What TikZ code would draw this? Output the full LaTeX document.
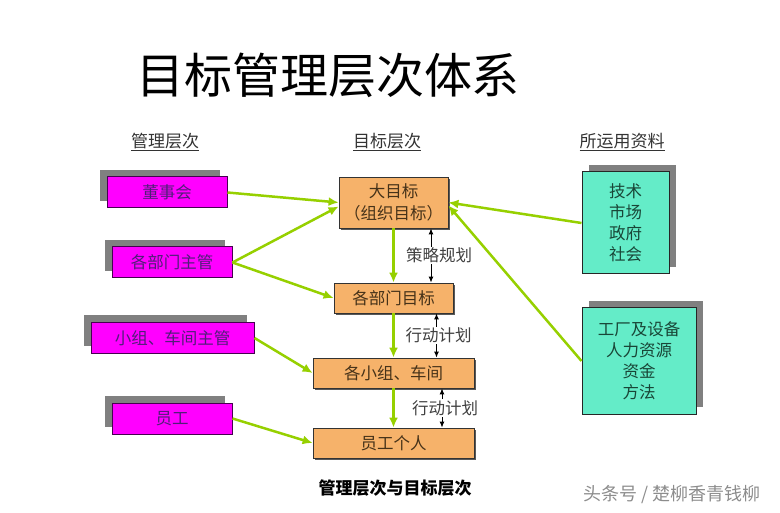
\documentclass[tikz,border=0pt]{standalone}
\usepackage{fontspec}
\setmainfont{Noto Sans CJK SC}
\usepackage{xcolor}
\usepackage{tikz}
\usetikzlibrary{arrows.meta, shadows, positioning}
\definecolor{boxmagenta}{RGB}{255,0,255}
\definecolor{magentaline}{RGB}{70,0,80}
\definecolor{magentatext}{RGB}{80,30,120}
\definecolor{boxorange}{RGB}{246,178,106}
\definecolor{orangetext}{RGB}{70,50,25}
\definecolor{boxteal}{RGB}{100,236,200}
\definecolor{tealtext}{RGB}{25,70,55}
\definecolor{shadowgray}{RGB}{128,128,128}
\definecolor{arrowgreen}{RGB}{150,208,0}
\tikzset{
    magentanode/.style = {draw=magentaline, line width=1pt, fill=boxmagenta, rectangle, inner sep=0em,
      minimum height=31pt, text=magentatext, font=\fontsize{16.5}{20}\selectfont, node distance=0em,
      general shadow={fill=shadowgray, shadow xshift=-7pt, shadow yshift=7pt}},
    orangenode/.style = {draw=black!80, line width=0.8pt, fill=boxorange, rectangle, inner sep=0em,
      minimum height=30pt, text=orangetext, font=\fontsize{16.5}{22}\selectfont, node distance=0em,
      general shadow={fill=black!65, shadow xshift=2pt, shadow yshift=-2pt}},
    tealnode/.style = {draw=black!85, line width=1pt, fill=boxteal, rectangle, inner sep=0em,
      text=tealtext, font=\fontsize{16.5}{21}\selectfont, node distance=0em,
      general shadow={fill=shadowgray, shadow xshift=7pt, shadow yshift=7pt}},
    textnode/.style = {draw=none, fill=none, rectangle, inner sep=0em, node distance=0em},
    headnode/.style = {textnode, text=black!80, font=\fontsize{17}{20}\selectfont},
    connect/.style = {draw=arrowgreen, line width=2.5pt, -{Latex[length=10pt,width=9pt]}},
    plan/.style = {black, line width=1pt, {Latex[length=6pt,width=5pt]}-{Latex[length=6pt,width=5pt]}},
    planlabel/.style = {fill=white, inner sep=1pt, text=black!75, font=\fontsize{16.5}{20}\selectfont},
    every text node part/.style={align=center}
}

\begin{document}
\begin{tikzpicture}
    \useasboundingbox (0,0) rectangle (780pt,-513pt);

    \node [name=title, textnode, font=\fontsize{48}{52}\selectfont] at (328pt,-75pt) {目标管理层次体系};

    \node [name=hdrgoal, headnode, below of = title, xshift=59pt, yshift=-67pt] {\underline{目标层次}};
    \node [name=hdrmgmt, headnode, left of = hdrgoal, xshift=-222pt] {\underline{管理层次}};
    \node [name=hdrres, headnode, right of = hdrgoal, xshift=235pt] {\underline{所运用资料}};

    % goal levels
    \node [name=dmb, orangenode, minimum width=109pt, minimum height=51pt,
        below of = hdrgoal, xshift=6.5pt, yshift=-60.5pt] {大目标\\（组织目标）};
    \node [name=bmmb, orangenode, minimum width=119pt, below of = dmb, yshift=-95.5pt] {各部门目标};
    \node [name=xzcjmb, orangenode, minimum width=161pt, below of = bmmb, yshift=-75pt] {各小组、车间};
    \node [name=ygmb, orangenode, minimum width=161pt, below of = xzcjmb, yshift=-70pt] {员工个人};

    \node [name=caption, textnode, font=\fontsize{17}{20}\selectfont\bfseries,
        below of = ygmb, xshift=1.5pt, yshift=-45pt] {管理层次与目标层次};

    % management levels
    \node [name=dsh, magentanode, minimum width=120pt, below of = hdrmgmt, xshift=2pt, yshift=-50.5pt] {董事会};
    \node [name=bmzg, magentanode, minimum width=120pt, below of = dsh, xshift=5pt, yshift=-70pt] {各部门主管};
    \node [name=xzzg, magentanode, minimum width=163pt, below of = bmzg, xshift=0.5pt, yshift=-75.5pt] {小组、车间主管};
    \node [name=yg, magentanode, minimum width=120pt, below of = xzzg, xshift=-0.5pt, yshift=-80.5pt] {员工};

    % resources
    \node [name=zl1, tealnode, minimum width=87pt, minimum height=102pt,
        below of = hdrres, xshift=3.5pt, yshift=-81pt] {技术\\市场\\政府\\社会};
    \node [name=zl2, tealnode, minimum width=114pt, minimum height=106pt,
        below of = zl1, xshift=13.5pt, yshift=-138pt] {工厂及设备\\人力资源\\资金\\方法};

    \draw [connect] (dsh.east) -- (dmb.west);
    \draw [connect] (bmzg.east) -- ([yshift=-4pt]dmb.west);
    \draw [connect] (bmzg.east) -- (bmmb.west);
    \draw [connect] (xzzg.east) -- (xzcjmb.west);
    \draw [connect] (yg.east) -- (ygmb.west);
    \draw [connect] (zl1.west) -- (dmb.east);
    \draw [connect] (zl2.west) -- ([yshift=-3pt]dmb.east);

    \draw [connect] (dmb.south) -- (bmmb.north);
    \draw [connect] (bmmb.south) -- (xzcjmb.north);
    \draw [connect] (xzcjmb.south) -- (ygmb.north);

    \draw [plan] ([xshift=37.5pt]dmb.south) -- node[planlabel, xshift=8pt]{策略规划} ([xshift=37.5pt]bmmb.north);
    \draw [plan] ([xshift=43pt]bmmb.south) -- node[planlabel, xshift=2pt]{行动计划} ([xshift=43pt]xzcjmb.north);
    \draw [plan] ([xshift=48.5pt]xzcjmb.south) -- node[planlabel, xshift=3pt]{行动计划} ([xshift=48.5pt]ygmb.north);

    \node [name=mark, textnode, text=black!45, font=\fontsize{18}{20}\selectfont] at (672pt,-495pt) {头条号 / 楚柳香青钱柳};
\end{tikzpicture}
\end{document}
